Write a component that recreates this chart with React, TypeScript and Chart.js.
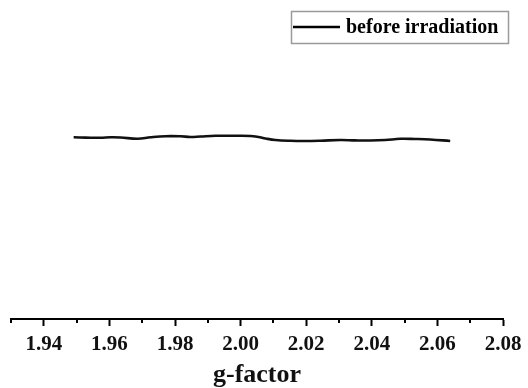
import React, { useEffect, useRef } from "react";
import { Chart, registerables } from "chart.js";

Chart.register(...registerables);

const seriesLabel = "before irradiation";
const gFactor = [
  1.9491, 1.9528, 1.9573, 1.9604, 1.9634, 1.9686, 1.9726, 1.9771, 1.9817, 1.9847,
  1.9878, 1.9924, 1.9985, 2.003, 2.0054, 2.0076, 2.0106, 2.0152, 2.0197, 2.0243,
  2.0304, 2.035, 2.0395, 2.0441, 2.0487, 2.0532, 2.0578, 2.0639,
];
const intensity = [
  0.696, 0.687, 0.68, 0.696, 0.69, 0.649, 0.696, 0.73, 0.727, 0.705,
  0.721, 0.743, 0.743, 0.737, 0.705, 0.658, 0.611, 0.586, 0.58, 0.589,
  0.611, 0.599, 0.596, 0.611, 0.649, 0.643, 0.627, 0.58,
];
const xMin = 1.93;
const xMax = 2.08;
const xTitle = "g-factor";

const FONT = "'Liberation Serif', 'Times New Roman', serif";

const isMajor = (v: number) => Math.round(v * 100) % 2 === 0;

const decorPlugin = {
  id: "decor",
  afterDraw(chart: any) {
    const ctx = chart.ctx;
    const xs = chart.scales.x;
    const y0 = chart.chartArea.bottom;
    ctx.save();
    ctx.strokeStyle = "#000";
    ctx.lineWidth = 2;
    xs.ticks.forEach((t: any) => {
      if (!isMajor(t.value)) {
        const px = Math.round(xs.getPixelForValue(t.value));
        ctx.beginPath();
        ctx.moveTo(px, y0);
        ctx.lineTo(px, y0 + 4);
        ctx.stroke();
      }
    });
    // legend
    const bx = 291, by = 11, bw = 217, bh = 32;
    ctx.strokeStyle = "#9a9a9a";
    ctx.lineWidth = 1.5;
    ctx.strokeRect(bx + 0.5, by + 0.5, bw, bh);
    const cy = by + bh / 2;
    ctx.strokeStyle = "#000";
    ctx.lineWidth = 2.5;
    ctx.beginPath();
    ctx.moveTo(bx + 2, cy);
    ctx.lineTo(bx + 49, cy);
    ctx.stroke();
    ctx.fillStyle = "#000";
    ctx.font = `bold 20px ${FONT}`;
    ctx.textBaseline = "middle";
    ctx.textAlign = "left";
    ctx.fillText(chart.data.datasets[0].label, bx + 55, cy + 1);
    ctx.restore();
  },
};

export default function App() {
  const ref = useRef<HTMLCanvasElement>(null);
  useEffect(() => {
    if (!ref.current) return;
    const chart = new Chart(ref.current, {
      type: "line",
      data: {
        datasets: [
          {
            label: seriesLabel,
            data: gFactor.map((g, i) => ({ x: g, y: intensity[i] })),
            borderColor: "#111",
            borderWidth: 2.6,
            pointRadius: 0,
            tension: 0.4,
            fill: false,
          },
        ],
      },
      options: {
        animation: false,
        responsive: false,
        layout: { padding: { left: 11, right: 25, top: 0, bottom: 0 } },
        plugins: { legend: { display: false }, tooltip: { enabled: false } },
        scales: {
          x: {
            type: "linear",
            min: xMin,
            max: xMax,
            afterFit: (s: any) => {
              s.height = 69;
            },
            border: { display: true, color: "#000", width: 2 },
            grid: {
              drawOnChartArea: false,
              drawTicks: true,
              tickLength: 7,
              tickWidth: 2,
              tickColor: (c: any) =>
                c.tick && isMajor(c.tick.value) ? "#000" : "rgba(0,0,0,0)",
            },
            ticks: {
              stepSize: 0.01,
              autoSkip: false,
              maxRotation: 0,
              padding: 6,
              color: "#111",
              font: { family: FONT, size: 21, weight: "bold" },
              callback: (v: any) => (isMajor(Number(v)) ? Number(v).toFixed(2) : ""),
            },
            title: {
              display: true,
              text: xTitle,
              color: "#111",
              font: { family: FONT, size: 26, weight: "bold" },
              padding: { top: 0, bottom: -3 },
            },
          },
          y: { display: false, min: -5, max: 5 },
        },
      },
      plugins: [decorPlugin],
    });
    return () => chart.destroy();
  }, []);
  return (
    <div style={{ position: "absolute", left: 0, top: 0, width: 528, height: 388, background: "#fff" }}>
      <canvas ref={ref} width={528} height={388} style={{ display: "block" }} />
    </div>
  );
}
